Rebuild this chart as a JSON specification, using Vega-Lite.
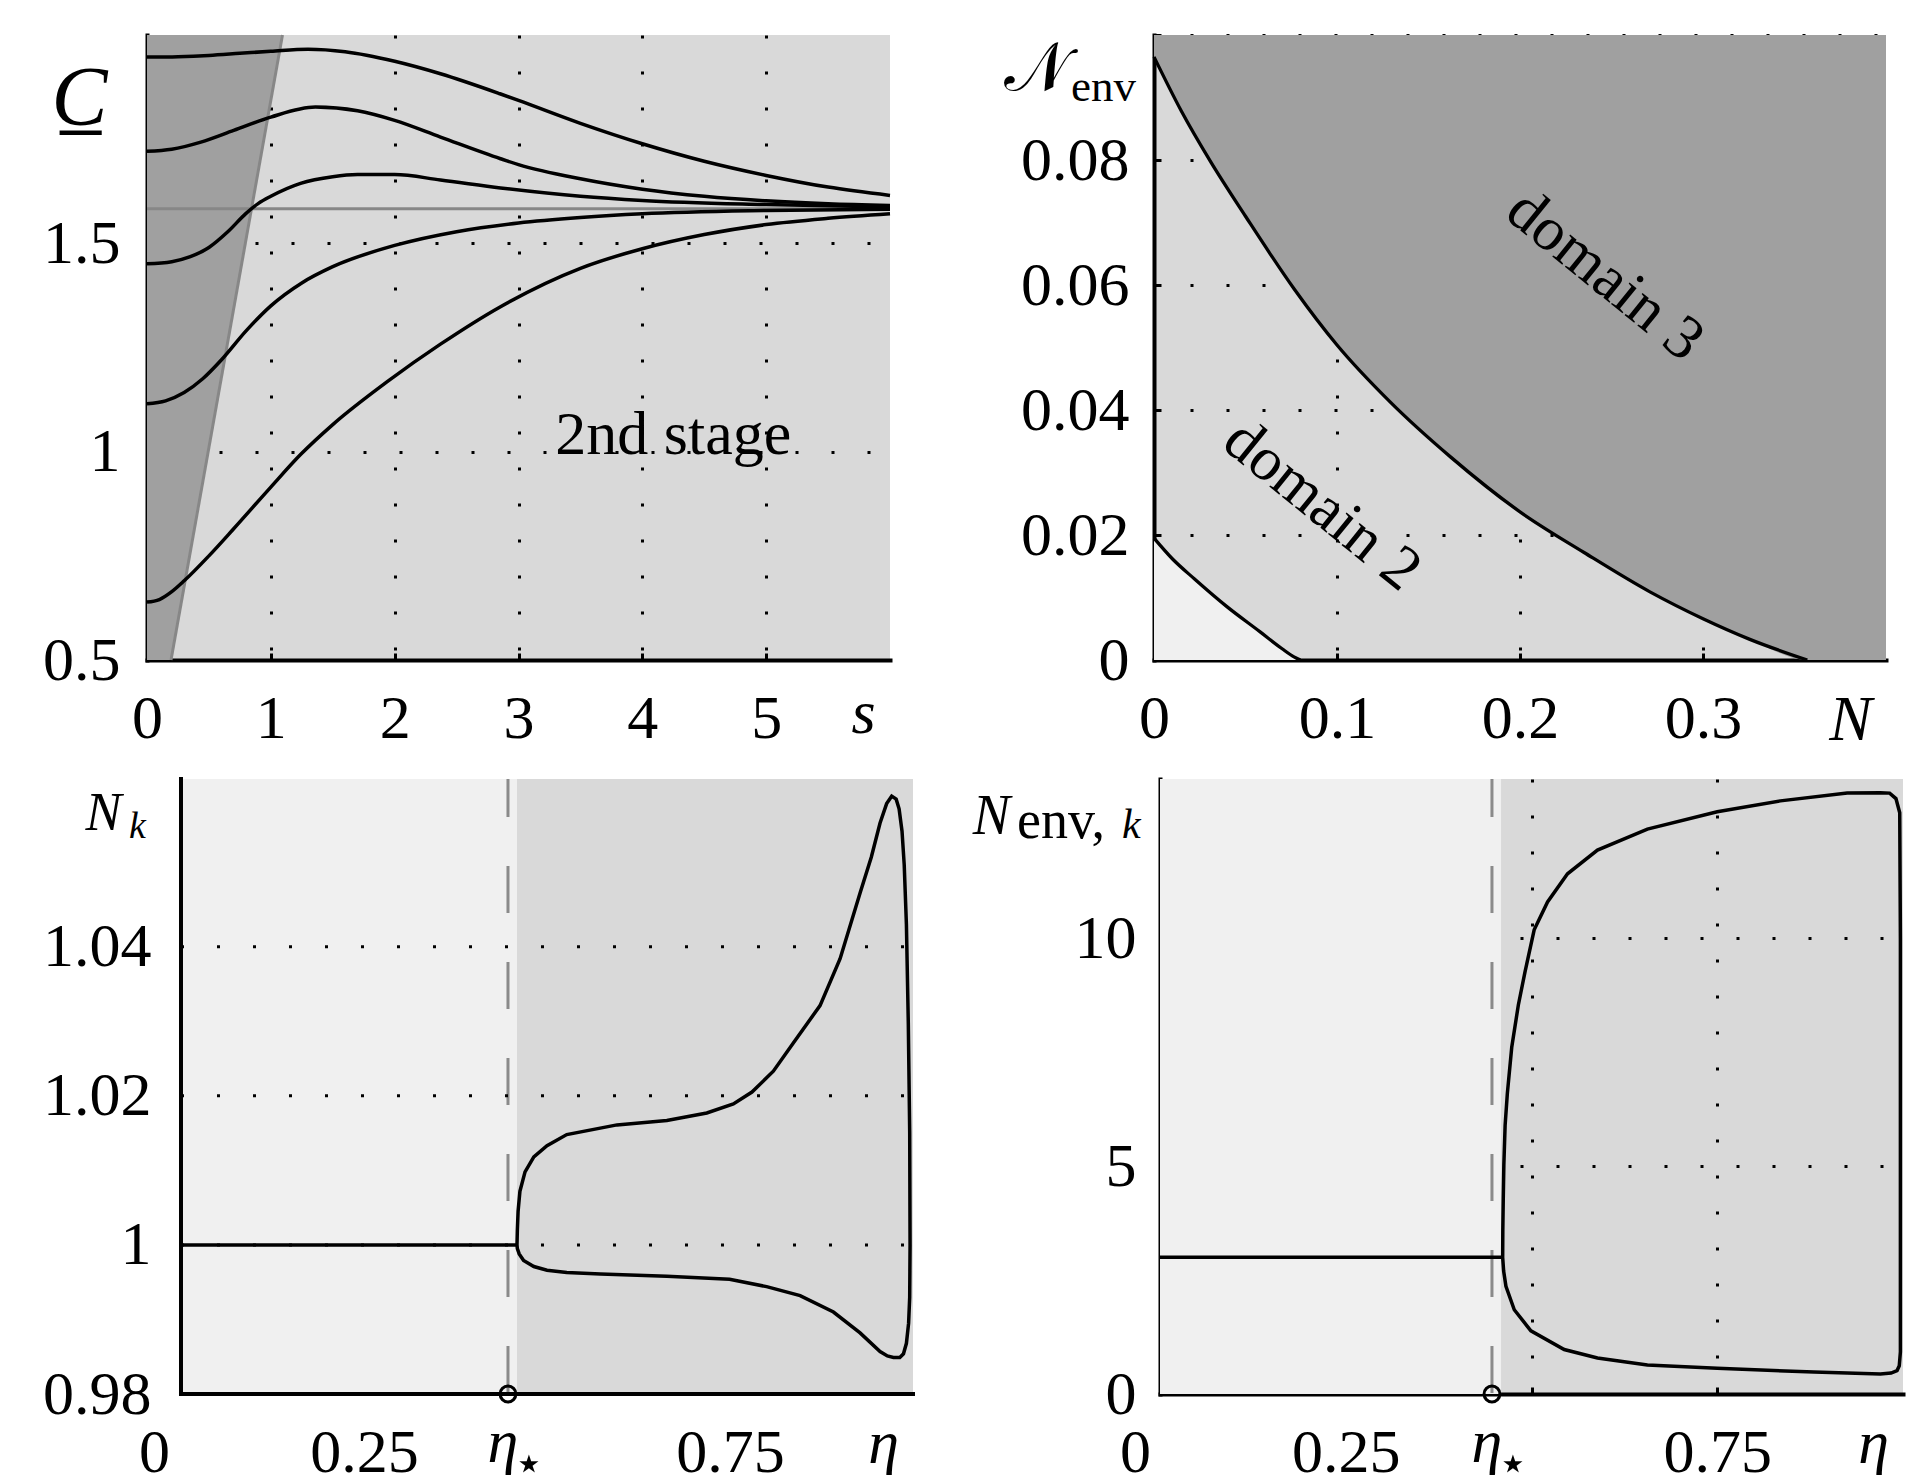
{
 "$schema": "https://vega.github.io/schema/vega-lite/v6.json",
 "background": "white",
 "padding": {"left": 42, "top": 4, "right": 0, "bottom": 0},
 "autosize": {"type": "pad"},
 "spacing": 24,
 "vconcat": [
  {
   "hconcat": [
    {
     "width": 743, "height": 625,
     "view": {"fill": "#d9d9d9", "stroke": null},
     "layer": [
      {
       "data": {"values": [{"x": 0, "y": 0.5, "y2": 2}, {"x": 0.194, "y": 0.5, "y2": 2}, {"x": 1.094, "y": 2, "y2": 2}]},
       "mark": {"type": "area", "color": "#a0a0a0", "opacity": 1},
       "encoding": {
        "x": {"field": "x", "type": "quantitative", "scale": {"domain": [0, 6], "nice": false, "zero": false},
              "axis": {"values": [0, 1, 2, 3, 4, 5], "format": "~g", "title": "s", "titleFontStyle": "italic", "titleFontSize": 62, "titleX": 716, "titleY": 72, "titleAlign": "center", "titleBaseline": "alphabetic", "titleAngle": 0}},
        "y": {"field": "y", "type": "quantitative", "scale": {"domain": [0.5, 2], "nice": false, "zero": false},
              "axis": {"values": [0.5, 1, 1.5], "format": "~g", "labelPadding": 34, "title": "C̲", "titleFontStyle": "italic", "titleFontSize": 84, "titleX": -68, "titleY": 89, "titleAlign": "center", "titleBaseline": "alphabetic", "titleAngle": 0}},
        "y2": {"field": "y2"}
       }
      },
      {
       "data": {"values": [{"g": "a", "x": 0.194, "y": 0.5}, {"g": "a", "x": 1.094, "y": 2}, {"g": "b", "x": 0, "y": 1.583}, {"g": "b", "x": 6, "y": 1.583}]},
       "mark": {"type": "line", "color": "#878787", "strokeWidth": 3},
       "encoding": {
        "x": {"field": "x", "type": "quantitative", "scale": {"domain": [0, 6], "nice": false, "zero": false}},
        "y": {"field": "y", "type": "quantitative", "scale": {"domain": [0.5, 2], "nice": false, "zero": false}},
        "detail": {"field": "g"}
       }
      },
      {
       "data": {"values": [
        {"c": 1, "x": 0, "y": 1.947}, {"c": 1, "x": 0.25, "y": 1.948}, {"c": 1, "x": 0.5, "y": 1.951}, {"c": 1, "x": 0.75, "y": 1.956}, {"c": 1, "x": 1, "y": 1.961}, {"c": 1, "x": 1.3, "y": 1.966}, {"c": 1, "x": 1.6, "y": 1.96}, {"c": 1, "x": 2, "y": 1.937}, {"c": 1, "x": 2.37, "y": 1.907}, {"c": 1, "x": 2.85, "y": 1.859}, {"c": 1, "x": 3, "y": 1.843}, {"c": 1, "x": 3.5, "y": 1.788}, {"c": 1, "x": 4, "y": 1.739}, {"c": 1, "x": 4.5, "y": 1.697}, {"c": 1, "x": 5, "y": 1.663}, {"c": 1, "x": 5.5, "y": 1.635}, {"c": 1, "x": 6, "y": 1.615},
        {"c": 2, "x": 0, "y": 1.721}, {"c": 2, "x": 0.2, "y": 1.726}, {"c": 2, "x": 0.435, "y": 1.743}, {"c": 2, "x": 0.7, "y": 1.771}, {"c": 2, "x": 1, "y": 1.803}, {"c": 2, "x": 1.36, "y": 1.827}, {"c": 2, "x": 1.7, "y": 1.818}, {"c": 2, "x": 2, "y": 1.795}, {"c": 2, "x": 2.37, "y": 1.755}, {"c": 2, "x": 2.855, "y": 1.703}, {"c": 2, "x": 3, "y": 1.689}, {"c": 2, "x": 3.5, "y": 1.655}, {"c": 2, "x": 4, "y": 1.63}, {"c": 2, "x": 4.5, "y": 1.613}, {"c": 2, "x": 5, "y": 1.602}, {"c": 2, "x": 5.5, "y": 1.595}, {"c": 2, "x": 6, "y": 1.591},
        {"c": 3, "x": 0, "y": 1.451}, {"c": 3, "x": 0.2, "y": 1.456}, {"c": 3, "x": 0.35, "y": 1.468}, {"c": 3, "x": 0.5, "y": 1.49}, {"c": 3, "x": 0.65, "y": 1.527}, {"c": 3, "x": 0.8, "y": 1.572}, {"c": 3, "x": 0.9, "y": 1.596}, {"c": 3, "x": 1, "y": 1.613}, {"c": 3, "x": 1.24, "y": 1.644}, {"c": 3, "x": 1.5, "y": 1.66}, {"c": 3, "x": 1.7, "y": 1.665}, {"c": 3, "x": 2, "y": 1.665}, {"c": 3, "x": 2.37, "y": 1.652}, {"c": 3, "x": 2.855, "y": 1.633}, {"c": 3, "x": 3.5, "y": 1.613}, {"c": 3, "x": 4, "y": 1.603}, {"c": 3, "x": 5, "y": 1.593}, {"c": 3, "x": 6, "y": 1.587},
        {"c": 4, "x": 0, "y": 1.115}, {"c": 4, "x": 0.15, "y": 1.122}, {"c": 4, "x": 0.3, "y": 1.142}, {"c": 4, "x": 0.45, "y": 1.175}, {"c": 4, "x": 0.6, "y": 1.22}, {"c": 4, "x": 0.8, "y": 1.29}, {"c": 4, "x": 1, "y": 1.35}, {"c": 4, "x": 1.25, "y": 1.405}, {"c": 4, "x": 1.5, "y": 1.444}, {"c": 4, "x": 2, "y": 1.495}, {"c": 4, "x": 2.5, "y": 1.528}, {"c": 4, "x": 3, "y": 1.549}, {"c": 4, "x": 3.5, "y": 1.562}, {"c": 4, "x": 4, "y": 1.571}, {"c": 4, "x": 5, "y": 1.579}, {"c": 4, "x": 6, "y": 1.582},
        {"c": 5, "x": 0, "y": 0.639}, {"c": 5, "x": 0.1, "y": 0.645}, {"c": 5, "x": 0.2, "y": 0.664}, {"c": 5, "x": 0.3, "y": 0.69}, {"c": 5, "x": 0.5, "y": 0.75}, {"c": 5, "x": 0.7, "y": 0.815}, {"c": 5, "x": 1, "y": 0.915}, {"c": 5, "x": 1.24, "y": 0.993}, {"c": 5, "x": 1.5, "y": 1.065}, {"c": 5, "x": 1.94, "y": 1.168}, {"c": 5, "x": 2.37, "y": 1.258}, {"c": 5, "x": 2.855, "y": 1.348}, {"c": 5, "x": 3.5, "y": 1.44}, {"c": 5, "x": 4, "y": 1.487}, {"c": 5, "x": 4.5, "y": 1.521}, {"c": 5, "x": 5, "y": 1.545}, {"c": 5, "x": 5.5, "y": 1.56}, {"c": 5, "x": 6, "y": 1.571}
       ]},
       "mark": {"type": "line", "color": "black", "strokeWidth": 3.5, "interpolate": "monotone"},
       "encoding": {
        "x": {"field": "x", "type": "quantitative", "scale": {"domain": [0, 6], "nice": false, "zero": false}},
        "y": {"field": "y", "type": "quantitative", "scale": {"domain": [0.5, 2], "nice": false, "zero": false}},
        "detail": {"field": "c"}
       }
      },
      {
       "data": {"values": [{"x": 4.25, "y": 0.994, "t": "2nd stage"}]},
       "mark": {"type": "text", "fontSize": 62, "font": "Liberation Serif", "align": "center", "baseline": "alphabetic", "color": "black"},
       "encoding": {
        "x": {"field": "x", "type": "quantitative", "scale": {"domain": [0, 6], "nice": false, "zero": false}},
        "y": {"field": "y", "type": "quantitative", "scale": {"domain": [0.5, 2], "nice": false, "zero": false}},
        "text": {"field": "t"}
       }
      }
     ]
    },
    {
     "width": 732, "height": 625,
     "view": {"fill": "#d9d9d9", "stroke": null},
     "layer": [
      {
       "data": {"values": [
        {"x": 0, "y": 0.0965, "y2": 0.1}, {"x": 0.015, "y": 0.0878, "y2": 0.1}, {"x": 0.031, "y": 0.0797, "y2": 0.1}, {"x": 0.05, "y": 0.071, "y2": 0.1}, {"x": 0.0765, "y": 0.0594, "y2": 0.1}, {"x": 0.1, "y": 0.0504, "y2": 0.1}, {"x": 0.129, "y": 0.0413, "y2": 0.1}, {"x": 0.162, "y": 0.0325, "y2": 0.1}, {"x": 0.2, "y": 0.0237, "y2": 0.1}, {"x": 0.235, "y": 0.0172, "y2": 0.1}, {"x": 0.271, "y": 0.0109, "y2": 0.1}, {"x": 0.3, "y": 0.0066, "y2": 0.1}, {"x": 0.3256, "y": 0.0033, "y2": 0.1}, {"x": 0.357, "y": 0, "y2": 0.1}, {"x": 0.4, "y": 0, "y2": 0.1}
       ]},
       "mark": {"type": "area", "color": "#a0a0a0", "opacity": 1, "interpolate": "monotone"},
       "encoding": {
        "x": {"field": "x", "type": "quantitative", "scale": {"domain": [0, 0.4], "nice": false, "zero": false},
              "axis": {"values": [0, 0.1, 0.2, 0.3], "format": "~g", "title": "N", "titleFontStyle": "italic", "titleFontSize": 64, "titleX": 696, "titleY": 79, "titleAlign": "center", "titleBaseline": "alphabetic", "titleAngle": 0}},
        "y": {"field": "y", "type": "quantitative", "scale": {"domain": [0, 0.1], "nice": false, "zero": false},
              "axis": {"values": [0, 0.02, 0.04, 0.06, 0.08, 0.1], "format": "~g", "labelPadding": 32, "labelExpr": "datum.value > 0.09 ? '' : datum.label", "title": "𝒩", "titleFontSize": 68, "titleX": -118, "titleY": 54, "titleAlign": "center", "titleBaseline": "alphabetic", "titleAngle": 0}},
        "y2": {"field": "y2"}
       }
      },
      {
       "data": {"values": [
        {"x": 0, "y": 0, "y2": 0.0195}, {"x": 0.01, "y": 0, "y2": 0.0162}, {"x": 0.022, "y": 0, "y2": 0.013}, {"x": 0.04, "y": 0, "y2": 0.0085}, {"x": 0.058, "y": 0, "y2": 0.0045}, {"x": 0.07, "y": 0, "y2": 0.0018}, {"x": 0.0765, "y": 0, "y2": 0.0005}, {"x": 0.08, "y": 0, "y2": 0}
       ]},
       "mark": {"type": "area", "color": "#f0f0f0", "opacity": 1, "interpolate": "monotone"},
       "encoding": {
        "x": {"field": "x", "type": "quantitative", "scale": {"domain": [0, 0.4], "nice": false, "zero": false}},
        "y": {"field": "y", "type": "quantitative", "scale": {"domain": [0, 0.1], "nice": false, "zero": false}},
        "y2": {"field": "y2"}
       }
      },
      {
       "data": {"values": [
        {"b": "u", "x": 0, "y": 0.0965}, {"b": "u", "x": 0.015, "y": 0.0878}, {"b": "u", "x": 0.031, "y": 0.0797}, {"b": "u", "x": 0.05, "y": 0.071}, {"b": "u", "x": 0.0765, "y": 0.0594}, {"b": "u", "x": 0.1, "y": 0.0504}, {"b": "u", "x": 0.129, "y": 0.0413}, {"b": "u", "x": 0.162, "y": 0.0325}, {"b": "u", "x": 0.2, "y": 0.0237}, {"b": "u", "x": 0.235, "y": 0.0172}, {"b": "u", "x": 0.271, "y": 0.0109}, {"b": "u", "x": 0.3, "y": 0.0066}, {"b": "u", "x": 0.3256, "y": 0.0033}, {"b": "u", "x": 0.357, "y": 0},
        {"b": "l", "x": 0, "y": 0.0195}, {"b": "l", "x": 0.01, "y": 0.0162}, {"b": "l", "x": 0.022, "y": 0.013}, {"b": "l", "x": 0.04, "y": 0.0085}, {"b": "l", "x": 0.058, "y": 0.0045}, {"b": "l", "x": 0.07, "y": 0.0018}, {"b": "l", "x": 0.0765, "y": 0.0005}, {"b": "l", "x": 0.08, "y": 0}
       ]},
       "mark": {"type": "line", "color": "black", "strokeWidth": 3.3, "interpolate": "monotone"},
       "encoding": {
        "x": {"field": "x", "type": "quantitative", "scale": {"domain": [0, 0.4], "nice": false, "zero": false}},
        "y": {"field": "y", "type": "quantitative", "scale": {"domain": [0, 0.1], "nice": false, "zero": false}},
        "detail": {"field": "b"}
       }
      },
      {
       "data": {"values": [{"x": 0.2466, "y": 0.0616, "t": "domain 3"}, {"x": 0.092, "y": 0.0248, "t": "domain 2"}]},
       "mark": {"type": "text", "fontSize": 62, "font": "Liberation Serif", "align": "center", "baseline": "middle", "angle": 39, "color": "black"},
       "encoding": {
        "x": {"field": "x", "type": "quantitative", "scale": {"domain": [0, 0.4], "nice": false, "zero": false}},
        "y": {"field": "y", "type": "quantitative", "scale": {"domain": [0, 0.1], "nice": false, "zero": false}},
        "text": {"field": "t"}
       }
      },
      {
       "data": {"values": [{"x": 0, "y": 0.1, "t": "env"}]},
       "mark": {"type": "text", "fontSize": 45, "font": "Liberation Serif", "align": "left", "baseline": "alphabetic", "dx": -83, "dy": 66, "color": "black"},
       "encoding": {
        "x": {"field": "x", "type": "quantitative", "scale": {"domain": [0, 0.4], "nice": false, "zero": false}},
        "y": {"field": "y", "type": "quantitative", "scale": {"domain": [0, 0.1], "nice": false, "zero": false}},
        "text": {"field": "t"}
       }
      }
     ]
    }
   ],
   "spacing": 264,
   "bounds": "flush"
  },
  {
   "hconcat": [
    {
     "width": 766, "height": 615,
     "view": {"stroke": null},
     "layer": [
      {
       "data": {"values": [{"x": 0, "x2": 0.459, "k": "a"}, {"x": 0.459, "x2": 1, "k": "b"}]},
       "mark": {"type": "rect", "opacity": 1},
       "encoding": {
        "x": {"field": "x", "type": "quantitative", "scale": {"domain": [-0.046448, 1], "nice": false, "zero": false}},
        "x2": {"field": "x2"},
        "color": {"field": "k", "type": "nominal", "scale": {"domain": ["a", "b"], "range": ["#f0f0f0", "#d9d9d9"]}, "legend": null}
       }
      },
      {
       "data": {"values": [{"x": 0.4467}]},
       "mark": {"type": "rule", "color": "#8a8a8a", "strokeWidth": 3, "strokeDash": [47, 49], "strokeDashOffset": 9},
       "encoding": {
        "x": {"field": "x", "type": "quantitative", "scale": {"domain": [-0.046448, 1], "nice": false, "zero": false}}
       }
      },
      {
       "data": {"values": [
        {"i": 0, "x": 0, "y": 1}, {"i": 1, "x": 0.459, "y": 1}, {"i": 2, "x": 0.4595, "y": 1.002}, {"i": 3, "x": 0.4605, "y": 1.0045}, {"i": 4, "x": 0.463, "y": 1.0072}, {"i": 5, "x": 0.47, "y": 1.0098}, {"i": 6, "x": 0.482, "y": 1.0118}, {"i": 7, "x": 0.5, "y": 1.0133}, {"i": 8, "x": 0.527, "y": 1.0148}, {"i": 9, "x": 0.5956, "y": 1.0161}, {"i": 10, "x": 0.6637, "y": 1.0167}, {"i": 11, "x": 0.7183, "y": 1.0177}, {"i": 12, "x": 0.7546, "y": 1.0189}, {"i": 13, "x": 0.78, "y": 1.0205}, {"i": 14, "x": 0.8092, "y": 1.0233}, {"i": 15, "x": 0.8365, "y": 1.0271}, {"i": 16, "x": 0.873, "y": 1.0321}, {"i": 17, "x": 0.9004, "y": 1.0384}, {"i": 18, "x": 0.9277, "y": 1.0472}, {"i": 19, "x": 0.943, "y": 1.052}, {"i": 20, "x": 0.955, "y": 1.0566}, {"i": 21, "x": 0.964, "y": 1.0592}, {"i": 22, "x": 0.9709, "y": 1.0602}, {"i": 23, "x": 0.977, "y": 1.0598}, {"i": 24, "x": 0.981, "y": 1.0585}, {"i": 25, "x": 0.985, "y": 1.0555}, {"i": 26, "x": 0.988, "y": 1.051}, {"i": 27, "x": 0.991, "y": 1.043}, {"i": 28, "x": 0.9936, "y": 1.0296}, {"i": 29, "x": 0.9955, "y": 1.015}, {"i": 30, "x": 0.996, "y": 1.0}, {"i": 31, "x": 0.9955, "y": 0.993}, {"i": 32, "x": 0.994, "y": 0.9895}, {"i": 33, "x": 0.991, "y": 0.9868}, {"i": 34, "x": 0.987, "y": 0.9854}, {"i": 35, "x": 0.982, "y": 0.9849}, {"i": 36, "x": 0.9733, "y": 0.9849}, {"i": 37, "x": 0.965, "y": 0.9851}, {"i": 38, "x": 0.955, "y": 0.9857}, {"i": 39, "x": 0.9277, "y": 0.9882}, {"i": 40, "x": 0.8913, "y": 0.991}, {"i": 41, "x": 0.8458, "y": 0.9932}, {"i": 42, "x": 0.8, "y": 0.9944}, {"i": 43, "x": 0.7494, "y": 0.9954}, {"i": 44, "x": 0.6637, "y": 0.9958}, {"i": 45, "x": 0.573, "y": 0.9961}, {"i": 46, "x": 0.527, "y": 0.9963}, {"i": 47, "x": 0.5, "y": 0.9966}, {"i": 48, "x": 0.482, "y": 0.9971}, {"i": 49, "x": 0.468, "y": 0.9979}, {"i": 50, "x": 0.462, "y": 0.9988}, {"i": 51, "x": 0.4595, "y": 0.9995}, {"i": 52, "x": 0.459, "y": 1}
       ]},
       "mark": {"type": "line", "color": "black", "strokeWidth": 3.5},
       "encoding": {
        "x": {"field": "x", "type": "quantitative", "scale": {"domain": [-0.046448, 1], "nice": false, "zero": false},
              "axis": {"values": [0, 0.25, 0.5, 0.75], "format": "~g", "domain": false, "labelExpr": "datum.value == 0.5 ? '' : datum.label", "labelOffset": {"condition": {"test": "datum.value == 0", "value": -27}, "value": 0}, "title": "η", "titleFontStyle": "italic", "titleFontSize": 62, "titleX": 736, "titleY": 68, "titleAlign": "center", "titleBaseline": "alphabetic", "titleAngle": 0}},
        "y": {"field": "y", "type": "quantitative", "scale": {"domain": [0.98, 1.0625], "nice": false, "zero": false},
              "axis": {"values": [0.98, 1, 1.02, 1.04], "format": "~g", "offset": -34, "grid": false, "domain": false, "labelPadding": 37, "title": "N", "titleFontStyle": "italic", "titleFontSize": 54, "titleX": -78, "titleY": 50, "titleAlign": "center", "titleBaseline": "alphabetic", "titleAngle": 0}},
        "order": {"field": "i"}
       }
      },
      {
       "data": {"values": [{"x": 0, "x2": 1, "y": 1}, {"x": 0, "x2": 1, "y": 1.02}, {"x": 0, "x2": 1, "y": 1.04}]},
       "mark": {"type": "rule", "color": "black", "strokeWidth": 3, "strokeDash": [3, 33]},
       "encoding": {
        "x": {"field": "x", "type": "quantitative", "scale": {"domain": [-0.046448, 1], "nice": false, "zero": false}},
        "x2": {"field": "x2"},
        "y": {"field": "y", "type": "quantitative", "scale": {"domain": [0.98, 1.0625], "nice": false, "zero": false}}
       }
      },
      {
       "data": {"values": [{"x": 0, "x2": 1, "y": 0.98, "y2": 0.98}, {"x": 0, "x2": 0, "y": 0.98, "y2": 1.0625}]},
       "mark": {"type": "rule", "color": "black", "strokeWidth": 4, "strokeCap": "square"},
       "encoding": {
        "x": {"field": "x", "type": "quantitative", "scale": {"domain": [-0.046448, 1], "nice": false, "zero": false}},
        "x2": {"field": "x2"},
        "y": {"field": "y", "type": "quantitative", "scale": {"domain": [0.98, 1.0625], "nice": false, "zero": false}},
        "y2": {"field": "y2"}
       }
      },
      {
       "data": {"values": [{"x": 0.4467, "y": 0.98}]},
       "mark": {"type": "point", "shape": "circle", "filled": false, "size": 250, "stroke": "black", "strokeWidth": 3, "opacity": 1},
       "encoding": {
        "x": {"field": "x", "type": "quantitative", "scale": {"domain": [-0.046448, 1], "nice": false, "zero": false}},
        "y": {"field": "y", "type": "quantitative", "scale": {"domain": [0.98, 1.0625], "nice": false, "zero": false}}
       }
      },
      {
       "data": {"values": [{"x": 0.4467, "y": 0.98, "t": "η"}]},
       "mark": {"type": "text", "fontSize": 62, "font": "Liberation Serif", "fontStyle": "italic", "align": "center", "baseline": "alphabetic", "dx": -5, "dy": 68, "color": "black"},
       "encoding": {
        "x": {"field": "x", "type": "quantitative", "scale": {"domain": [-0.046448, 1], "nice": false, "zero": false}},
        "y": {"field": "y", "type": "quantitative", "scale": {"domain": [0.98, 1.0625], "nice": false, "zero": false}},
        "text": {"field": "t"}
       }
      },
      {
       "data": {"values": [{"x": 0.4467, "y": 0.98, "t": "⋆"}]},
       "mark": {"type": "text", "fontSize": 50, "font": "DejaVu Sans", "align": "center", "baseline": "top", "dx": 21, "dy": 46, "color": "black"},
       "encoding": {
        "x": {"field": "x", "type": "quantitative", "scale": {"domain": [-0.046448, 1], "nice": false, "zero": false}},
        "y": {"field": "y", "type": "quantitative", "scale": {"domain": [0.98, 1.0625], "nice": false, "zero": false}},
        "text": {"field": "t"}
       }
      },
      {
       "data": {"values": [{"x": 0, "y": 1.0625, "t": "k"}]},
       "mark": {"type": "text", "fontSize": 38, "font": "Liberation Serif", "fontStyle": "italic", "align": "left", "baseline": "alphabetic", "dx": -52, "dy": 59, "color": "black"},
       "encoding": {
        "x": {"field": "x", "type": "quantitative", "scale": {"domain": [-0.046448, 1], "nice": false, "zero": false}},
        "y": {"field": "y", "type": "quantitative", "scale": {"domain": [0.98, 1.0625], "nice": false, "zero": false}},
        "text": {"field": "t"}
       }
      }
     ]
    },
    {
     "width": 743, "height": 615,
     "view": {"fill": "#d9d9d9", "stroke": null},
     "layer": [
      {
       "data": {"values": [{"x": 0, "x2": 0.459}]},
       "mark": {"type": "rect", "color": "#f0f0f0", "opacity": 1},
       "encoding": {
        "x": {"field": "x", "type": "quantitative", "scale": {"domain": [0, 1], "nice": false, "zero": false}},
        "x2": {"field": "x2"}
       }
      },
      {
       "data": {"values": [{"x": 0.4468}]},
       "mark": {"type": "rule", "color": "#8a8a8a", "strokeWidth": 3, "strokeDash": [47, 49], "strokeDashOffset": 9},
       "encoding": {
        "x": {"field": "x", "type": "quantitative", "scale": {"domain": [0, 1], "nice": false, "zero": false}}
       }
      },
      {
       "data": {"values": [
        {"i": 0, "x": 0, "y": 3}, {"i": 1, "x": 0.4612, "y": 3}, {"i": 2, "x": 0.4614, "y": 3.6}, {"i": 3, "x": 0.462, "y": 4.3}, {"i": 4, "x": 0.4628, "y": 5.04}, {"i": 5, "x": 0.4645, "y": 5.9}, {"i": 6, "x": 0.4675, "y": 6.6}, {"i": 7, "x": 0.4734, "y": 7.61}, {"i": 8, "x": 0.4823, "y": 8.54}, {"i": 9, "x": 0.4912, "y": 9.26}, {"i": 10, "x": 0.5036, "y": 10.19}, {"i": 11, "x": 0.5216, "y": 10.8}, {"i": 12, "x": 0.5485, "y": 11.42}, {"i": 13, "x": 0.5888, "y": 11.94}, {"i": 14, "x": 0.656, "y": 12.4}, {"i": 15, "x": 0.75, "y": 12.78}, {"i": 16, "x": 0.835, "y": 13.02}, {"i": 17, "x": 0.9249, "y": 13.19}, {"i": 18, "x": 0.9696, "y": 13.2}, {"i": 19, "x": 0.982, "y": 13.19}, {"i": 20, "x": 0.9905, "y": 13.07}, {"i": 21, "x": 0.9956, "y": 12.76}, {"i": 22, "x": 0.9965, "y": 10}, {"i": 23, "x": 0.9965, "y": 5}, {"i": 24, "x": 0.9965, "y": 0.924}, {"i": 25, "x": 0.995, "y": 0.62}, {"i": 26, "x": 0.992, "y": 0.514}, {"i": 27, "x": 0.984, "y": 0.46}, {"i": 28, "x": 0.9696, "y": 0.441}, {"i": 29, "x": 0.88, "y": 0.483}, {"i": 30, "x": 0.75, "y": 0.564}, {"i": 31, "x": 0.656, "y": 0.636}, {"i": 32, "x": 0.5888, "y": 0.79}, {"i": 33, "x": 0.544, "y": 0.977}, {"i": 34, "x": 0.4992, "y": 1.387}, {"i": 35, "x": 0.4768, "y": 1.85}, {"i": 36, "x": 0.4656, "y": 2.366}, {"i": 37, "x": 0.4625, "y": 2.7}, {"i": 38, "x": 0.4612, "y": 3}
       ]},
       "mark": {"type": "line", "color": "black", "strokeWidth": 3.5},
       "encoding": {
        "x": {"field": "x", "type": "quantitative", "scale": {"domain": [0, 1], "nice": false, "zero": false},
              "axis": {"values": [0, 0.25, 0.5, 0.75], "format": "~g", "labelExpr": "datum.value == 0.5 ? '' : datum.label", "labelOffset": {"condition": {"test": "datum.value == 0", "value": -25}, "value": 0}, "title": "η", "titleFontStyle": "italic", "titleFontSize": 62, "titleX": 713, "titleY": 68, "titleAlign": "center", "titleBaseline": "alphabetic", "titleAngle": 0}},
        "y": {"field": "y", "type": "quantitative", "scale": {"domain": [0, 13.5], "nice": false, "zero": false},
              "axis": {"values": [0, 5, 10], "format": "~g", "labelPadding": 31, "title": "N", "titleFontStyle": "italic", "titleFontSize": 56, "titleX": -169, "titleY": 54, "titleAlign": "center", "titleBaseline": "alphabetic", "titleAngle": 0}},
        "order": {"field": "i"}
       }
      },
      {
       "data": {"values": [{"x": 0.4468, "y": 0}]},
       "mark": {"type": "point", "shape": "circle", "filled": false, "size": 250, "stroke": "black", "strokeWidth": 3, "opacity": 1},
       "encoding": {
        "x": {"field": "x", "type": "quantitative", "scale": {"domain": [0, 1], "nice": false, "zero": false}},
        "y": {"field": "y", "type": "quantitative", "scale": {"domain": [0, 13.5], "nice": false, "zero": false}}
       }
      },
      {
       "data": {"values": [{"x": 0.4468, "y": 0, "t": "η"}]},
       "mark": {"type": "text", "fontSize": 62, "font": "Liberation Serif", "fontStyle": "italic", "align": "center", "baseline": "alphabetic", "dx": -5, "dy": 68, "color": "black"},
       "encoding": {
        "x": {"field": "x", "type": "quantitative", "scale": {"domain": [0, 1], "nice": false, "zero": false}},
        "y": {"field": "y", "type": "quantitative", "scale": {"domain": [0, 13.5], "nice": false, "zero": false}},
        "text": {"field": "t"}
       }
      },
      {
       "data": {"values": [{"x": 0.4468, "y": 0, "t": "⋆"}]},
       "mark": {"type": "text", "fontSize": 50, "font": "DejaVu Sans", "align": "center", "baseline": "top", "dx": 21, "dy": 46, "color": "black"},
       "encoding": {
        "x": {"field": "x", "type": "quantitative", "scale": {"domain": [0, 1], "nice": false, "zero": false}},
        "y": {"field": "y", "type": "quantitative", "scale": {"domain": [0, 13.5], "nice": false, "zero": false}},
        "text": {"field": "t"}
       }
      },
      {
       "data": {"values": [{"x": 0, "y": 13.5, "t": "env,"}]},
       "mark": {"type": "text", "fontSize": 54, "font": "Liberation Serif", "align": "left", "baseline": "alphabetic", "dx": -143, "dy": 59, "color": "black"},
       "encoding": {
        "x": {"field": "x", "type": "quantitative", "scale": {"domain": [0, 1], "nice": false, "zero": false}},
        "y": {"field": "y", "type": "quantitative", "scale": {"domain": [0, 13.5], "nice": false, "zero": false}},
        "text": {"field": "t"}
       }
      },
      {
       "data": {"values": [{"x": 0, "y": 13.5, "t": "k"}]},
       "mark": {"type": "text", "fontSize": 42, "font": "Liberation Serif", "fontStyle": "italic", "align": "left", "baseline": "alphabetic", "dx": -38, "dy": 59, "color": "black"},
       "encoding": {
        "x": {"field": "x", "type": "quantitative", "scale": {"domain": [0, 1], "nice": false, "zero": false}},
        "y": {"field": "y", "type": "quantitative", "scale": {"domain": [0, 13.5], "nice": false, "zero": false}},
        "text": {"field": "t"}
       }
      }
     ]
    }
   ],
   "spacing": 247,
   "bounds": "flush"
  }
 ],
 "config": {
  "view": {"stroke": null},
  "font": "Liberation Serif",
  "axis": {
   "domainColor": "black", "domainWidth": 4, "domainCap": "square",
   "tickColor": "black", "tickWidth": 3, "tickSize": -7, "tickCap": "butt",
   "grid": true, "gridColor": "black", "gridWidth": 3, "gridDash": [3, 33], "gridOpacity": 1,
   "labelFont": "Liberation Serif", "labelFontSize": 62, "labelColor": "black",
   "labelOverlap": false, "labelFlush": false, "labelBound": false,
   "titleFont": "Liberation Serif", "titleFontWeight": "normal", "titleColor": "black",
   "zindex": 1
  },
  "axisX": {"labelPadding": 35},
  "axisY": {"labelPadding": 35, "labelOffset": 0},
  "text": {"font": "Liberation Serif", "color": "black"}
 }
}
